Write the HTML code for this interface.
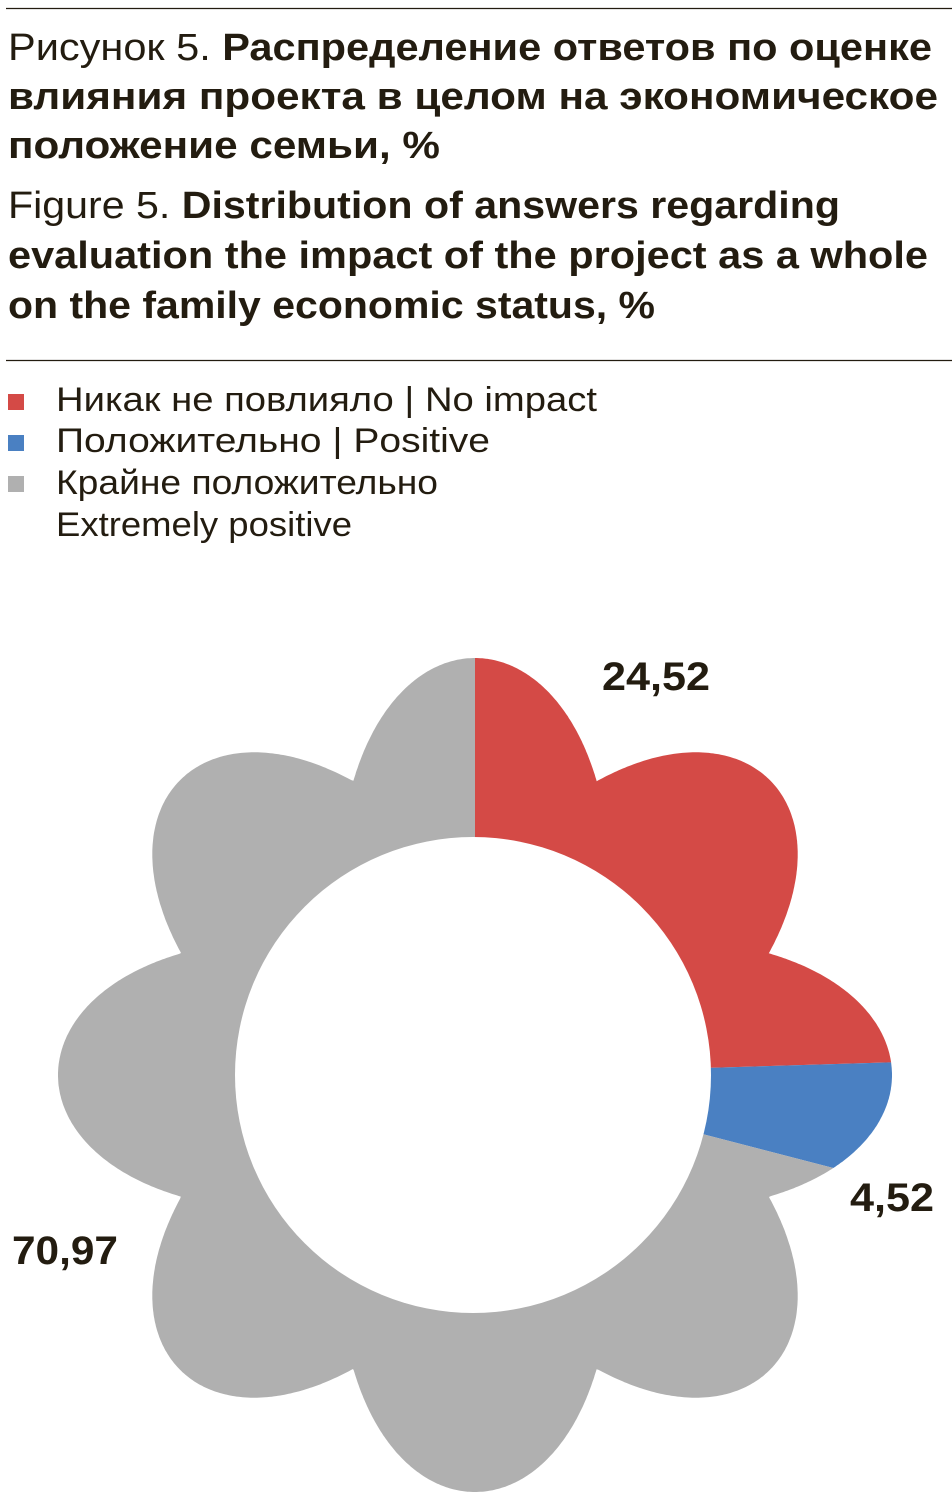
<!DOCTYPE html>
<html><head><meta charset="utf-8"><style>
html,body{margin:0;padding:0;background:#fff;}
svg{display:block;}
text{font-family:"Liberation Sans","DejaVu Sans",sans-serif;fill:#231c10;}
</style></head><body>
<svg id="s" width="952" height="1498" viewBox="0 0 952 1498" xmlns="http://www.w3.org/2000/svg">
<line x1="6" y1="8.5" x2="952" y2="8.5" stroke="#231c10" stroke-width="1.2"/>
<line x1="6" y1="360.5" x2="952" y2="360.5" stroke="#231c10" stroke-width="1.2"/>
<g font-size="38">
<text x="8" y="60" textLength="924" lengthAdjust="spacingAndGlyphs"><tspan>Рисунок 5. </tspan><tspan font-weight="bold">Распределение ответов по оценке</tspan></text>
<text x="8" y="109" textLength="930" lengthAdjust="spacingAndGlyphs" font-weight="bold">влияния проекта в целом на экономическое</text>
<text x="8" y="158" textLength="432" lengthAdjust="spacingAndGlyphs" font-weight="bold">положение семьи, %</text>
<text x="8" y="218" textLength="832" lengthAdjust="spacingAndGlyphs"><tspan>Figure 5. </tspan><tspan font-weight="bold">Distribution of answers regarding</tspan></text>
<text x="8" y="268" textLength="920" lengthAdjust="spacingAndGlyphs" font-weight="bold">evaluation the impact of the project as a whole</text>
<text x="8" y="318" textLength="647" lengthAdjust="spacingAndGlyphs" font-weight="bold">on the family economic status, %</text>
</g>
<rect x="8" y="394" width="16" height="16" fill="#d44a46"/>
<rect x="8" y="435" width="16" height="16" fill="#4a80c2"/>
<rect x="8" y="476" width="16" height="16" fill="#b0b0b0"/>
<g font-size="34">
<text x="56" y="411" textLength="541" lengthAdjust="spacingAndGlyphs">Никак не повлияло  |  No impact</text>
<text x="56" y="452" textLength="434" lengthAdjust="spacingAndGlyphs">Положительно  |  Positive</text>
<text x="56" y="494" textLength="382" lengthAdjust="spacingAndGlyphs">Крайне положительно</text>
<text x="56" y="536" textLength="296" lengthAdjust="spacingAndGlyphs">Extremely positive</text>
</g>
<g id="chart"></g>
<g font-size="40" font-weight="bold">
<text x="602" y="690" textLength="108" lengthAdjust="spacingAndGlyphs">24,52</text>
<text x="850" y="1211" textLength="84" lengthAdjust="spacingAndGlyphs">4,52</text>
<text x="12" y="1264" textLength="106" lengthAdjust="spacingAndGlyphs">70,97</text>
</g>
</svg>
<script>
(function(){
var cx=475,cy=1075,rmin=318,rmax=417;
function pt(a){
  var t=a*Math.PI/180;
  var r=rmin+(rmax-rmin)*Math.abs(Math.cos(4*t));
  return [cx+r*Math.sin(t), cy-r*Math.cos(t)];
}
function slice(a1,a2,col){
  var d="M"+cx+","+cy;
  for(var a=a1;a<=a2;a+=0.25){var p=pt(a);d+=" L"+p[0].toFixed(1)+","+p[1].toFixed(1);}
  var p=pt(a2);d+=" L"+p[0].toFixed(1)+","+p[1].toFixed(1)+" Z";
  return '<path d="'+d+'" fill="'+col+'"/>';
}
var a1=24.52*3.6, a2=a1+4.52*3.6;
var h=slice(0,a1,"#d44a46")+slice(a1,a2,"#4a80c2")+slice(a2,360,"#b0b0b0")+
 '<circle cx="'+(cx-2)+'" cy="'+cy+'" r="238" fill="#fff"/>';
document.getElementById("chart").innerHTML=h;
})();
</script>
</body></html>
